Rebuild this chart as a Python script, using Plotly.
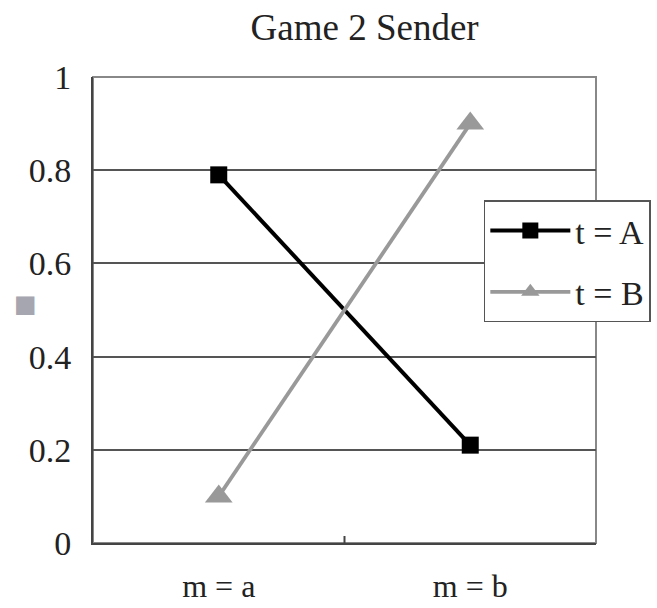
import plotly.graph_objects as go

categories = ["m = a", "m = b"]
series_names = ["t = A", "t = B"]
values_A = [0.79, 0.21]
values_B = [0.10, 0.90]
y_ticks = [0, 0.2, 0.4, 0.6, 0.8, 1]
y_tick_labels = ["0", "0.2", "0.4", "0.6", "0.8", "1"]
y_axis_title = "■"

FONT = "Liberation Serif"

fig = go.Figure()
fig.add_trace(go.Scatter(
    x=[0, 1], y=values_A, name=series_names[0], mode="lines+markers",
    legendgroup="A",
    line=dict(color="#000000", width=4),
    marker=dict(symbol="square", size=17, color="#000000"),
))
fig.add_trace(go.Scatter(
    x=[0, 1], y=values_B, name=series_names[1], mode="lines+markers",
    legendgroup="B",
    line=dict(color="#999999", width=3.8),
    marker=dict(symbol="triangle-up", size=24, color="#999999"),
))

fig.update_layout(
    width=657, height=608,
    margin=dict(l=93, r=61, t=77, b=65, autoexpand=False),
    paper_bgcolor="white", plot_bgcolor="white",
    font=dict(family=FONT, size=32, color="#222222"),
    title=dict(text="Game 2 Sender", x=0.555, xanchor="center", y=0.955, yanchor="middle",
               font=dict(family=FONT, size=37, color="#222222")),
    showlegend=True,
    legend=dict(x=0.777, xanchor="left", y=0.735, yanchor="top",
                bordercolor="#555555", borderwidth=1.5, bgcolor="white",
                font=dict(family=FONT, size=34, color="#222222"),
                itemwidth=80, tracegroupgap=14),
)
fig.update_xaxes(
    range=[-0.5, 1.5], tickmode="array", tickvals=[0, 1], ticktext=categories,
    showgrid=False, zeroline=False, automargin=False,
    showline=True, linecolor="#444444", linewidth=2, mirror=False,
    ticks="", ticklabelstandoff=14,
    tickfont=dict(family=FONT, size=32, color="#222222"),
)
fig.update_yaxes(
    range=[0, 1], tickmode="array", tickvals=y_ticks, ticktext=y_tick_labels,
    showgrid=True, gridcolor="#555555", gridwidth=1.5, zeroline=False, automargin=False,
    showline=True, linecolor="#444444", linewidth=2,
    ticks="", ticklabelstandoff=13,
    tickfont=dict(family=FONT, size=34, color="#222222"),
)
fig.add_annotation(text=y_axis_title, xref="paper", yref="paper",
                   x=-0.135, y=0.512, xanchor="center", yanchor="middle", showarrow=False,
                   font=dict(family="DejaVu Sans", size=24, color="#a6a6b0"))
# grey frame on top/right
fig.add_shape(type="rect", xref="paper", yref="paper", x0=0, y0=0, x1=1, y1=1,
              line=dict(color="#888888", width=2), layer="below")
# category divider tick
fig.add_shape(type="line", xref="x", yref="paper", x0=0.5, x1=0.5, y0=0, y1=0.015,
              line=dict(color="#444444", width=2))

fig.write_html("out.html")
